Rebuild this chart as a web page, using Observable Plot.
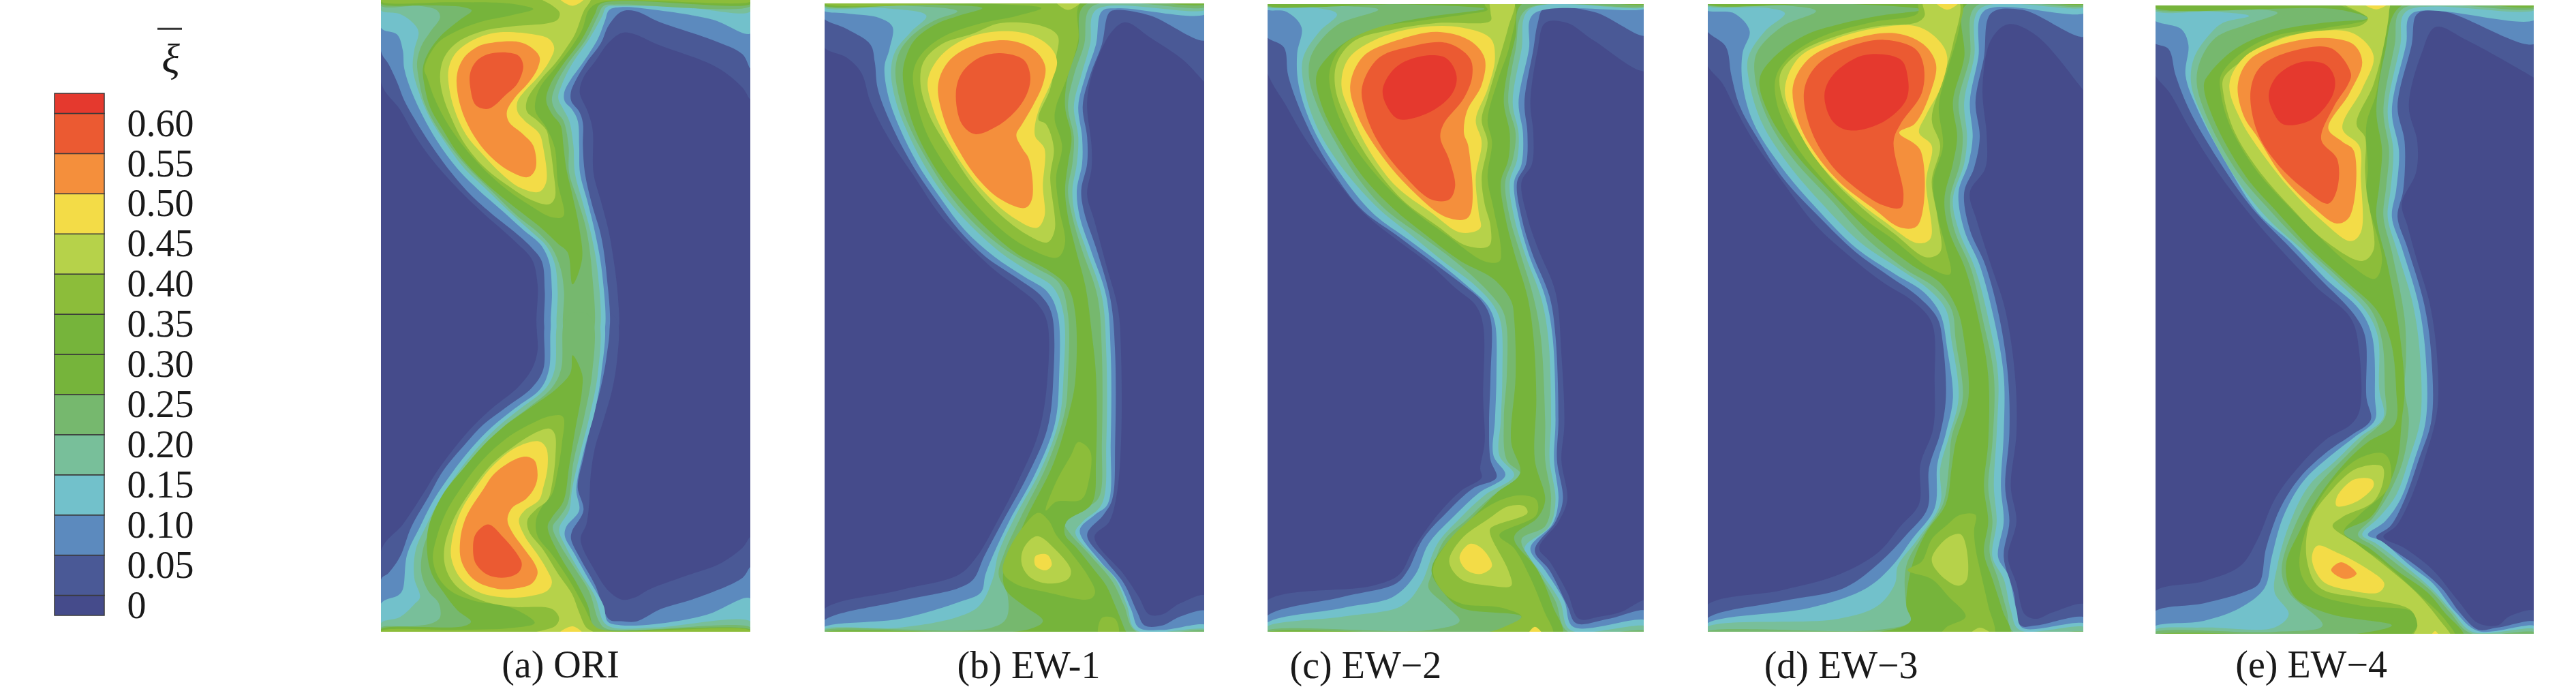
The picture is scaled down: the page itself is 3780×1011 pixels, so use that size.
<!DOCTYPE html>
<html><head><meta charset="utf-8">
<script src="https://cdn.jsdelivr.net/npm/d3@7"></script>
<script src="https://cdn.jsdelivr.net/npm/@observablehq/plot@0.6"></script>
<style>html,body{margin:0;background:#fff}#c{position:relative;width:3780px;height:1011px;overflow:hidden}#c>svg{position:absolute;top:0;overflow:visible}</style>
</head><body><div id="c"></div>
<script>
const thresholds=[0.0125,0.0625,0.1125,0.1625,0.2125,0.2625,0.3125,0.3625,0.4125,0.4625,0.5125,0.5625,0.6125];
const palette=["#454b8b","#4a5996","#5c8abe","#72c1cb","#78bf9a","#76b86e","#76b43b","#76b43b","#8cbd3a","#b6d24a","#f3dc47","#f48f3c","#eb5a32","#e5392e"];
const legendLevels=[0,0.05,0.10,0.15,0.20,0.25,0.30,0.35,0.40,0.45,0.50,0.55,0.60,0.625];
const legendLabels=[0,0.05,0.10,0.15,0.20,0.25,0.30,0.35,0.40,0.45,0.50,0.55,0.60];

// contour outlines: [xi level, [x,y, x,y, ...]], in picture units of each panel
const oriUpper=[
[.05,[45,-10,1333,-10,1333,435,1305,385,1215,295,1000,190,930,150,885,143,840,183,790,270,750,340,737,405,765,490,782,570,785,760,810,880,835,1000,850,1100,870,1300,870,1460,845,1500,615,1500,590,1460,590,1250,570,1140,510,1060,390,925,290,800,215,690,160,590,110,480,45,365]],
[.10,[45,-10,1333,-10,1333,300,1305,238,1200,175,1015,95,930,47,882,50,838,110,810,190,760,275,720,360,706,405,708,445,735,490,748,540,748,640,755,760,780,900,810,1030,830,1200,838,1460,813,1500,642,1500,617,1460,615,1280,605,1150,570,1090,510,1020,450,960,360,860,290,760,215,630,165,530,125,440,100,360,70,280,45,228]],
[.15,[45,-10,1333,-10,1333,145,1200,85,1000,42,880,30,840,42,825,90,800,170,745,280,705,350,683,405,685,445,710,480,730,530,735,640,738,760,765,890,790,1020,815,1200,822,1460,797,1500,665,1500,640,1460,640,1280,630,1150,600,1075,540,1010,470,930,380,830,310,740,240,620,190,510,150,400,125,300,120,220,100,150,45,122]],
[.20,[45,-10,1333,-10,1333,48,1100,30,880,25,830,30,815,70,770,170,710,280,675,370,662,430,680,480,700,530,715,640,720,760,745,880,775,1020,800,1200,805,1460,780,1500,685,1500,660,1460,660,1280,650,1160,620,1080,570,1020,500,940,410,830,335,740,265,620,215,520,175,400,155,300,160,220,175,140,160,105,110,60,45,45]],
[.25,[45,-10,1333,-10,1333,25,870,18,820,25,800,70,760,170,695,280,655,370,640,440,655,490,680,530,698,640,700,760,730,880,760,1010,780,1200,785,1460,760,1500,707,1500,682,1460,682,1280,670,1180,640,1090,590,1020,520,950,430,840,350,740,290,650,235,550,195,450,175,340,170,270,185,200,215,140,250,75,240,45,180,25,45,25]],
[.30,[45,-10,1333,-10,1333,15,810,15,790,60,745,170,680,280,635,370,620,440,640,500,670,550,680,640,690,740,710,850,735,1000,745,1140,712,1250,695,1110,660,1070,610,1010,540,940,460,860,380,770,310,670,260,570,215,470,195,370,190,300,205,240,250,160,320,85,360,45,330,30,200,22,45,15]],
[.40,[45,-10,1333,-10,1333,5,810,8,770,40,745,130,700,220,650,300,600,380,583,440,583,490,620,560,650,650,660,800,680,950,640,955,560,900,480,830,400,740,330,640,270,530,230,430,205,340,195,300,240,190,300,140,390,95,500,65,575,38,500,15,300,8,45,6]],
[.45,[600,-10,775,-10,750,50,720,150,690,210,650,280,600,350,553,440,553,490,590,530,620,570,630,620,645,750,650,870,630,898,570,880,480,810,400,730,330,620,290,520,260,420,250,330,265,250,310,185,400,135,500,115,630,100,660,85,667,55,640,22]],
[.50,[440,143,560,147,630,170,648,210,630,270,590,340,545,400,520,445,520,490,545,530,595,585,610,650,620,800,595,843,530,825,470,770,400,680,340,590,300,480,280,370,280,300,300,240,350,185]],
[.50,[665,-10,755,-10,712,24]],
[.55,[415,190,520,182,565,205,597,250,590,300,560,360,510,430,483,490,490,535,540,590,575,640,583,740,557,778,490,750,420,680,370,600,330,500,310,400,310,320,335,250,380,205]],
[.60,[415,238,485,230,525,245,540,290,520,365,480,415,420,477,375,462,355,380,355,320,375,270]]
];
const oriLower=[
[.05,[590,-20,615,-60,845,-60,870,-20,868,130,850,270,820,400,790,520,775,640,770,760,760,850,740,915,790,1050,840,1140,885,1175,930,1165,980,1130,1100,1075,1225,1020,1305,950,1333,905,1333,1325,45,1325,45,960,120,850,190,720,240,620,300,520,370,420,440,340,520,260,570,180,590,100]],
[.10,[617,-20,642,-60,813,-60,838,-20,830,130,810,260,780,400,750,560,730,690,750,790,710,880,707,915,740,1000,790,1110,840,1260,880,1268,930,1270,960,1255,1020,1215,1150,1165,1305,1080,1333,1035,1333,1325,45,1325,45,1085,70,1060,110,990,150,860,210,730,260,620,340,500,400,420,480,345,570,260,610,180]],
[.15,[640,-20,665,-60,797,-60,822,-20,812,200,790,360,750,540,725,700,735,790,690,860,685,900,720,980,770,1090,820,1200,835,1270,880,1285,1000,1280,1180,1240,1333,1170,1333,1325,45,1325,45,1190,105,1155,120,1130,135,980,180,860,230,740,290,630,360,520,430,430,510,350,600,265,630,180]],
[.20,[660,-20,685,-60,780,-60,805,-20,800,200,770,390,735,560,710,700,700,790,665,870,690,950,740,1060,790,1160,820,1270,850,1295,1000,1295,1333,1270,1333,1325,45,1325,45,1275,110,1250,160,1195,180,1165,160,1080,165,960,200,860,250,740,310,630,380,520,450,430,530,350,620,260,650,180]],
[.25,[682,-20,707,-60,760,-60,785,-20,780,200,750,400,715,580,695,760,665,820,643,860,665,930,720,1040,770,1140,805,1270,830,1300,1333,1295,1333,1325,45,1325,45,1295,150,1290,225,1275,250,1250,245,1190,210,1140,185,1060,190,960,220,860,270,730,330,620,400,520,470,430,560,345,640,260,672,180]],
[.30,[712,120,745,200,745,270,720,450,700,600,680,750,640,820,625,860,670,990,720,1090,765,1200,785,1290,810,1305,1333,1305,1333,1325,45,1325,45,1302,330,1290,358,1270,310,1220,260,1140,220,1060,205,970,210,860,260,720,330,610,400,510,480,420,560,350,660,260,705,195]],
[.40,[678,385,675,500,660,620,640,720,610,765,585,830,590,900,640,980,700,1090,750,1200,790,1290,830,1308,1333,1308,1333,1325,45,1325,45,1310,300,1305,500,1297,580,1275,500,1210,370,1180,290,1140,245,1080,225,1000,235,920,270,800,330,680,400,570,480,480,560,420,635,382]],
[.45,[632,437,650,460,652,560,640,680,625,745,585,785,555,830,560,880,610,960,660,1060,710,1150,735,1230,760,1295,790,1320,570,1320,650,1290,665,1255,640,1215,500,1205,400,1180,310,1120,270,1040,265,950,300,820,360,700,430,590,510,510,590,450]],
[.50,[595,492,620,520,625,600,610,690,595,745,545,790,525,830,545,900,590,980,620,1040,640,1100,625,1135,560,1160,470,1165,380,1140,320,1080,290,1000,290,930,320,800,380,680,440,590,520,515]],
[.50,[660,1325,712,1290,750,1325]],
[.55,[555,558,580,575,590,640,580,690,550,740,500,780,485,830,500,880,540,950,580,1020,590,1060,570,1105,520,1125,450,1128,370,1090,325,1010,320,920,340,820,400,700,440,630,520,565]],
[.60,[418,850,470,905,520,980,535,1020,525,1055,485,1078,420,1070,375,1020,365,950,375,890]]
];
const ew1=[
[.05,[46,-5,1340,-5,1340,188,1333,185,1260,135,1150,85,1065,50,1020,70,960,150,935,230,950,330,950,380,935,440,960,500,1000,600,1040,700,1050,800,1050,1000,1035,1120,1010,1180,960,1215,1060,1300,1110,1350,1145,1390,1190,1390,1250,1365,1340,1348,1340,1440,38,1440,38,1382,300,1335,500,1300,560,1260,630,1180,700,1090,770,980,800,860,800,730,770,690,700,650,620,610,510,540,430,480,350,400,260,310,200,230,170,165,120,130,38,103,38,-5]],
[.10,[38,-5,1340,-5,1340,90,1150,35,1040,22,1010,28,985,100,945,170,920,240,935,310,935,370,915,430,925,480,970,570,1015,680,1030,800,1030,1000,1020,1130,990,1165,935,1210,1000,1270,1060,1320,1105,1385,1130,1415,1190,1415,1250,1395,1340,1383,1340,1440,38,1440,38,1407,300,1360,500,1330,550,1310,585,1260,640,1190,730,1080,800,970,820,860,815,710,780,670,700,630,590,580,500,520,420,450,340,370,270,280,225,200,215,140,200,100,120,65,38,38]],
[.15,[38,-5,1340,-5,1340,30,1040,18,985,25,965,100,930,170,905,240,918,310,918,370,900,430,910,490,950,570,1000,670,1015,800,1015,1000,1005,1140,960,1165,910,1200,980,1270,1040,1315,1085,1380,1110,1420,1190,1425,1340,1415,1340,1440,38,1440,38,1421,300,1400,500,1362,575,1340,590,1300,620,1250,670,1180,760,1070,825,960,840,850,835,710,800,660,720,625,620,580,520,520,440,450,360,370,300,290,260,215,248,150,265,110,275,60,230,40,120,30,38,22]],
[.20,[38,-5,1340,-5,1340,20,965,22,945,100,915,170,890,240,905,310,900,370,885,430,895,490,935,570,985,670,1000,800,1000,1000,985,1140,920,1180,895,1205,960,1260,1030,1310,1070,1370,1100,1425,1340,1425,1340,1440,38,1440,38,1425,300,1420,500,1395,570,1370,615,1310,635,1250,690,1170,780,1060,840,950,855,850,855,710,820,650,740,615,640,570,540,510,460,450,380,370,320,290,285,225,270,160,285,115,340,70,390,35,250,18,38,15]],
[.25,[38,-5,1340,-5,1340,14,950,15,925,100,890,170,870,240,890,310,885,370,870,430,885,490,915,560,970,670,985,800,985,1000,975,1125,930,1150,860,1185,875,1205,950,1260,1020,1315,1060,1370,1100,1428,1340,1428,1340,1440,38,1440,38,1428,600,1422,660,1400,665,1345,635,1300,655,1250,710,1170,800,1050,860,930,870,850,870,710,840,640,760,605,660,565,560,510,480,450,400,370,335,290,300,225,285,160,300,115,350,75,420,45,495,25,300,12,38,12]],
[.30,[38,-5,1340,-5,1340,8,925,12,905,100,870,170,860,240,882,310,870,370,860,430,870,490,895,560,930,650,950,750,965,850,965,1040,950,1140,865,1180,860,1210,900,1240,960,1290,1000,1325,1030,1370,1060,1420,1070,1440,38,1440,38,1432,730,1425,785,1405,720,1370,660,1335,650,1300,680,1250,730,1170,820,1050,875,930,895,860,895,710,870,650,800,610,700,575,600,520,500,450,420,380,350,290,320,220,310,165,320,130,350,90,420,55,500,35,580,18,400,10,38,10]],
[.40,[38,-5,1340,-5,1340,4,915,5,905,90,870,170,830,240,825,270,850,330,830,400,840,470,860,550,835,582,720,555,620,505,530,440,450,370,390,300,355,225,345,165,370,125,440,85,560,55,700,35,780,18,600,8,38,6]],
[.45,[820,-5,925,-5,870,22]],
[.45,[640,52,780,58,835,80,830,130,810,200,770,270,795,280,822,335,810,400,825,520,800,548,730,530,640,485,550,420,470,340,400,260,370,190,380,140,440,100,550,75]],
[.50,[395,180,440,125,530,85,650,70,750,80,815,110,833,140,810,190,770,250,757,290,760,310,790,335,785,420,790,490,765,515,680,490,580,430,500,360,440,290,410,240]],
[.55,[430,190,470,135,560,100,680,92,760,115,793,150,785,190,750,240,715,280,695,305,715,335,738,360,748,450,725,470,640,450,560,400,500,340,450,270]],
[.60,[490,210,510,165,570,130,640,120,720,135,742,170,735,205,700,245,630,285,555,303,510,280]],
[.40,[905,1000,880,1030,830,1090,795,1155,830,1135,915,1130,940,1090,945,1020]],
[.40,[805,1178,770,1160,720,1190,665,1250,650,1295,690,1320,800,1340,945,1355,962,1340,940,1305,880,1250,830,1210]],
[.45,[765,1213,720,1240,713,1275,740,1305,800,1320,870,1310,880,1290,830,1245]],
[.50,[760,1258,800,1255,815,1278,795,1290,760,1280]],
[.40,[985,1398,1030,1400,1040,1440,975,1440]]
];
const ew2=[
[.05,[38,-5,1330,-5,1330,158,1150,90,1060,50,985,50,960,110,935,230,945,300,940,370,905,410,925,490,960,560,1020,660,1040,800,1050,960,1040,1040,1060,1130,1030,1180,965,1240,1000,1270,1060,1340,1100,1400,1170,1395,1240,1385,1330,1358,1330,1440,38,1440,38,1362,400,1325,490,1300,540,1240,620,1165,700,1110,770,1080,765,1060,780,1000,775,900,775,735,750,690,680,650,600,600,480,540,370,480,270,400,180,320,110,240,38,150]],
[.10,[38,-5,1330,-5,1330,78,1150,25,980,18,960,50,945,110,915,230,925,300,920,370,890,410,905,490,940,570,1000,670,1020,760,1030,950,1025,1040,1045,1130,1020,1180,950,1245,1000,1290,1060,1370,1090,1410,1200,1400,1330,1383,1330,1440,38,1440,38,1397,300,1350,480,1320,520,1290,570,1220,650,1160,740,1105,820,1080,800,1040,795,960,800,850,800,720,770,680,700,640,600,590,480,530,360,470,250,370,170,270,115,170,100,105,38,78]],
[.15,[38,-5,1330,-5,1330,15,945,30,930,110,895,230,910,300,905,370,880,410,895,490,930,575,985,670,1010,760,1020,950,1015,1040,1030,1130,1010,1185,935,1240,985,1290,1050,1360,1080,1418,1330,1405,1330,1440,38,1440,38,1412,300,1375,470,1350,545,1300,590,1230,680,1165,760,1115,850,1075,810,1030,815,950,820,850,815,730,790,690,720,645,620,590,520,540,400,480,290,390,200,290,150,190,145,120,160,60,110,25,38,18]],
[.20,[38,-5,1330,-5,1330,12,930,20,905,110,875,230,895,300,890,360,865,410,880,490,920,580,970,670,995,760,1005,950,1000,1040,1020,1130,1000,1190,915,1240,965,1290,1035,1360,1070,1425,1330,1418,1330,1440,38,1440,38,1420,300,1395,500,1370,565,1320,620,1230,700,1170,780,1120,880,1075,830,1030,835,950,840,850,835,730,810,690,740,640,640,590,530,530,420,470,300,380,215,290,170,200,165,130,220,70,280,30,200,15,38,12]],
[.25,[38,-5,1330,-5,1330,10,920,20,885,110,860,230,885,300,875,360,850,410,865,490,900,570,945,670,970,760,985,950,985,1040,1005,1130,985,1190,905,1220,950,1280,1020,1360,1060,1428,1330,1428,1330,1440,38,1440,38,1428,600,1425,695,1405,650,1370,590,1330,600,1300,640,1225,720,1175,800,1125,905,1075,855,1040,845,950,855,850,855,740,840,700,780,650,680,590,560,530,440,470,350,400,275,320,215,240,185,170,195,120,280,55,420,20,300,12,38,10]],
[.30,[38,-5,1330,-5,1330,6,905,8,885,80,860,150,845,230,865,300,860,360,835,410,850,490,880,570,925,670,945,760,955,900,950,1040,985,1130,960,1170,880,1215,960,1290,1010,1370,1040,1440,38,1440,38,1432,830,1425,905,1395,700,1375,640,1340,600,1290,650,1230,740,1170,820,1115,900,1070,870,1000,885,850,880,720,870,680,810,630,700,590,580,530,470,470,370,400,290,320,230,240,210,170,245,130,330,85,450,55,600,35,780,18,500,8,38,8]],
[.40,[780,8,880,8,865,100,825,180,790,270,805,320,790,400,810,470,835,560,830,590,780,590,650,530,520,465,420,400,320,310,265,220,255,160,300,100,420,60,560,45,720,30,790,20]],
[.45,[800,0,880,0,860,60,830,130,790,220,770,270,790,320,770,400,780,460,800,510,795,555,720,555,620,510,500,450,400,370,320,280,275,200,280,140,340,90,470,65,620,50,800,45,800,25]],
[.50,[295,190,320,130,420,85,560,60,700,60,800,85,815,130,790,200,750,270,770,320,750,400,760,480,765,515,700,525,600,480,480,420,390,340,330,260]],
[.55,[325,190,370,125,480,90,620,70,730,90,780,130,770,190,720,250,710,300,725,330,725,490,650,490,520,420,420,340,350,260]],
[.60,[365,195,420,130,520,105,650,95,730,130,738,170,710,220,640,280,630,310,660,360,680,420,660,450,600,450,500,390,420,320,375,250]],
[.625,[435,200,480,150,570,125,650,130,685,170,670,210,600,250,490,268,450,240]],
[.40,[640,1340,700,1365,840,1375,905,1395,840,1420,760,1440,1010,1440,980,1380,930,1300,880,1240,830,1210,955,1165,955,1130,900,1120,820,1135,740,1170,650,1230,605,1290]],
[.45,[915,1145,860,1145,790,1175,700,1220,660,1270,700,1310,800,1325,870,1325,860,1290,800,1210,800,1195,925,1160]],
[.50,[695,1260,730,1230,770,1240,805,1280,770,1298,720,1290]],
[.50,[925,1440,950,1418,980,1440]]
];
const ew3=[
[.05,[30,-5,1375,-5,1375,210,1368,205,1200,80,1100,55,1040,90,1010,200,1025,310,1020,380,965,435,990,500,1040,600,1090,700,1125,850,1130,980,1110,1100,1130,1180,1100,1260,1130,1320,1160,1390,1200,1400,1260,1385,1375,1368,1375,1440,30,1440,30,1372,300,1335,500,1300,640,1250,720,1190,785,1140,790,1050,835,970,840,860,830,730,760,680,660,640,540,580,420,510,300,410,200,320,130,240,90,190,30,140]],
[.10,[30,-5,1375,-5,1375,82,1150,22,1040,30,1015,130,985,230,1000,310,980,380,945,435,965,520,1020,600,1070,720,1100,850,1105,980,1090,1100,1105,1180,1085,1260,1120,1340,1145,1415,1200,1415,1375,1398,1375,1440,30,1440,30,1402,300,1360,520,1330,650,1270,740,1210,815,1150,820,1060,860,980,880,900,868,770,850,720,780,670,680,625,560,570,430,490,300,400,210,310,150,240,120,170,100,105,30,66]],
[.15,[30,-5,1375,-5,1375,28,1015,25,995,130,965,230,975,310,960,370,925,435,945,520,1000,600,1050,720,1085,850,1085,980,1075,1100,1085,1180,1065,1260,1100,1300,1130,1380,1150,1420,1375,1412,1375,1440,30,1440,30,1413,400,1375,600,1330,690,1280,760,1220,840,1150,850,1050,880,980,905,900,885,790,860,710,800,660,700,620,560,560,420,470,300,380,200,280,160,190,160,120,185,70,130,30,30,22]],
[.20,[30,-5,1375,-5,1375,15,1000,20,980,130,945,230,955,310,945,370,905,450,925,520,985,610,1030,720,1065,850,1060,980,1050,1100,1060,1180,1045,1260,1085,1310,1110,1380,1140,1425,1375,1420,1375,1440,30,1440,30,1420,500,1400,640,1370,700,1320,710,1280,780,1220,860,1140,860,1060,890,990,925,900,900,770,880,700,820,655,720,610,580,550,440,460,320,370,230,280,185,190,180,130,240,70,310,30,250,18,30,12]],
[.25,[30,-5,1375,-5,1375,12,985,15,965,130,925,230,940,310,930,370,895,450,910,520,970,610,1010,720,1050,850,1045,1000,1030,1100,1045,1180,1035,1250,1065,1310,1095,1380,1120,1430,1375,1430,1375,1440,30,1440,30,1430,640,1425,755,1405,740,1370,740,1280,800,1210,870,1140,890,1060,900,990,940,900,915,770,900,700,840,650,740,610,600,540,470,450,340,360,250,270,205,180,210,120,300,60,420,25,300,12,30,10]],
[.30,[30,-5,1375,-5,1375,8,950,12,945,130,905,230,920,310,905,370,875,450,890,520,950,610,995,720,1030,850,1030,1000,1015,1100,1030,1180,1015,1250,1045,1310,1080,1380,1105,1440,30,1440,30,1435,640,1430,755,1405,740,1370,760,1280,810,1205,880,1140,900,1060,915,1000,960,900,945,770,920,700,860,640,760,600,620,530,480,440,350,350,255,260,220,180,270,130,380,80,500,55,650,35,800,22,500,8,30,8]],
[.40,[785,2,935,2,925,70,885,160,855,240,870,330,835,410,855,500,880,560,895,620,820,605,690,540,580,490,450,410,340,320,280,230,280,170,340,120,450,80,620,50,780,30]],
[.40,[985,1165,930,1165,880,1190,830,1220,795,1270,745,1290,830,1310,890,1350,950,1395,880,1420,860,1440,1050,1440,1030,1370,1005,1300,985,1240,980,1200]],
[.45,[800,2,925,2,905,100,870,180,830,270,860,330,830,410,850,490,860,570,810,582,700,530,600,480,470,400,370,310,300,220,295,165,370,115,500,80,630,60,780,50,805,35]],
[.50,[310,200,360,130,480,90,620,65,780,60,860,95,885,130,860,200,810,260,785,300,830,330,810,410,825,540,780,550,660,500,540,440,420,360,340,270]],
[.55,[340,190,400,130,540,90,700,75,800,100,845,145,825,210,770,280,715,300,790,340,780,510,720,515,620,470,500,410,400,330,350,260]],
[.60,[378,205,420,150,520,110,660,90,770,110,800,145,795,210,720,280,695,320,730,440,720,470,660,465,560,425,470,370,400,290]],
[.625,[450,215,480,170,590,125,720,135,745,175,740,225,660,275,540,295,480,275]],
[.45,[830,1265,890,1215,935,1210,955,1310,925,1325,860,1300]],
[.45,[960,1440,1000,1420,1050,1440]],
[.50,[840,2,930,2,885,22]]
];
const ew4=[
[.05,[70,-5,1425,-5,1425,178,1418,175,1180,90,1070,60,1020,120,975,240,1005,320,1000,390,950,460,970,510,1000,580,1050,690,1075,810,1075,930,1030,1040,980,1130,930,1190,885,1215,960,1240,1060,1290,1150,1360,1220,1410,1290,1415,1330,1395,1425,1383,1425,1445,70,1445,70,1342,250,1315,380,1280,440,1220,500,1130,580,1060,680,995,770,960,800,930,800,800,770,720,650,650,530,570,420,490,300,390,200,290,130,210,70,158]],
[.10,[70,-5,1425,-5,1425,97,1100,25,1005,30,985,100,935,240,960,320,955,430,935,490,970,560,1030,690,1055,810,1055,950,1010,1040,960,1130,910,1190,860,1215,900,1235,1000,1280,1090,1330,1160,1390,1220,1425,1290,1420,1425,1408,1425,1445,70,1445,70,1387,250,1365,390,1340,445,1320,470,1240,520,1150,590,1080,690,1020,770,985,840,950,825,900,820,760,780,710,660,630,540,550,420,470,300,360,200,250,150,170,125,110,70,93]],
[.15,[70,-5,1425,-5,1425,42,985,30,965,100,915,250,940,340,930,430,915,490,950,560,1010,690,1035,810,1035,950,995,1040,945,1130,890,1180,830,1210,880,1225,980,1280,1060,1320,1140,1385,1220,1428,1425,1418,1425,1445,70,1445,70,1420,250,1405,380,1375,465,1330,490,1260,530,1170,600,1090,700,1030,780,990,855,950,855,900,845,760,800,700,680,630,560,550,440,480,330,370,230,250,185,170,195,100,170,65,70,42]],
[.20,[70,-5,1425,-5,1425,20,965,25,945,100,900,250,920,340,910,430,900,490,930,560,990,690,1015,810,1015,950,975,1040,930,1120,870,1170,810,1210,860,1230,960,1280,1060,1335,1130,1385,1200,1430,1425,1425,1425,1445,70,1445,70,1427,250,1420,500,1420,550,1390,500,1340,510,1280,550,1190,620,1100,720,1040,800,990,885,945,870,880,865,760,820,700,710,630,590,560,470,490,350,390,250,270,205,190,215,130,280,70,320,50,410,35,280,25,70,22]],
[.25,[70,-5,1425,-5,1425,16,950,20,925,100,885,250,905,340,895,420,885,490,915,570,960,720,965,810,960,880,975,950,955,1040,910,1110,850,1170,795,1210,850,1235,950,1285,1050,1335,1120,1385,1190,1432,1425,1432,1425,1445,70,1445,70,1432,500,1430,670,1415,550,1340,525,1290,565,1200,640,1110,740,1040,810,995,890,945,890,880,880,770,840,700,730,630,610,560,490,480,370,390,265,270,225,190,235,140,290,85,400,55,510,28,400,18,70,18]],
[.30,[70,-5,1425,-5,1425,12,945,14,890,120,860,250,880,340,870,420,860,490,900,600,935,720,960,880,950,950,935,1040,895,1110,840,1170,745,1205,835,1240,930,1290,1040,1340,1100,1385,1170,1445,70,1445,70,1438,780,1435,915,1415,700,1390,570,1350,540,1280,590,1200,660,1120,760,1040,830,1000,925,960,930,880,910,770,860,700,760,640,640,570,510,480,400,400,285,270,250,190,270,165,360,110,500,70,680,50,830,40,720,20,70,14]],
[.40,[830,40,680,62,500,80,380,120,310,170,310,210,340,280,430,380,540,460,650,530,770,600,855,630,880,590,825,440,830,380,825,280,860,210,885,100,905,30,900,5,720,5]],
[.40,[905,1040,905,1100,800,1165,745,1205,880,1270,1020,1350,1100,1400,1140,1445,980,1445,1005,1415,990,1385,800,1370,640,1340,590,1290,610,1200,680,1110,790,1040,880,1025]],
[.45,[830,40,810,55,680,68,520,85,400,130,320,175,320,215,360,300,450,390,560,470,670,540,810,590,850,565,825,430,820,380,820,310,790,280,850,190,890,90,905,25,905,5,740,5]],
[.45,[880,1055,885,1085,850,1135,740,1170,705,1190,790,1230,900,1285,1000,1340,1080,1400,1125,1445,990,1445,1005,1415,980,1380,830,1355,660,1330,615,1270,625,1180,700,1110,790,1060]],
[.50,[340,190,390,130,510,90,640,70,780,75,850,125,810,200,740,290,800,330,805,400,805,525,770,545,670,500,560,430,460,350,380,270]],
[.50,[720,1125,780,1085,845,1085,850,1100,790,1135,720,1145]],
[.50,[650,1235,720,1250,810,1280,888,1320,870,1340,760,1335,670,1315,632,1265]],
[.50,[1050,1445,1068,1428,1085,1445]],
[.50,[810,5,905,5,860,20]],
[.55,[370,190,410,135,520,100,680,85,780,100,810,140,765,210,690,290,740,320,780,340,765,490,720,505,640,470,530,400,440,310,390,260]],
[.55,[735,1272,790,1298,750,1310,700,1290]],
[.60,[415,205,450,150,560,115,700,108,770,165,760,190,710,240,665,315,722,360,720,430,690,460,610,430,510,370,440,300]],
[.625,[480,210,510,170,590,140,680,145,712,175,705,215,630,270,530,280,490,245]]
];

const color={type:"threshold",domain:thresholds,range:palette};
const root=document.getElementById("c");
const SERIF="Liberation Serif";

const toUpper=y=>1440+1.02*y;
const rows=(sets)=>d3.sort(sets.flatMap(([polys,fy],s)=>polys.flatMap(([level,p],i)=>{
  const out=[];for(let k=0;k<p.length;k+=2)out.push({id:s+"-"+i,level,x:p[k],y:fy?fy(p[k+1]):p[k+1]});return out;
})),d=>d.level);

const panels=[
 {left:559,right:1101,top:0,bottom:927,xd:[45,1333],yd:[0,2781],sets:[[oriUpper,null],[oriLower,toUpper]],cap:"(a) ORI",cx:670,cy:2928},
 {left:1210,right:1767,top:5,bottom:927,xd:[46,1333],yd:[8,1430],sets:[[ew1,null]],cap:"(b) EW-1",cx:737,cy:1506},
 {left:1860,right:2412,top:6,bottom:927,xd:[46,1320],yd:[8,1430],sets:[[ew2,null]],cap:"(c) EW\u22122",cx:377,cy:1506},
 {left:2506,right:3057,top:6,bottom:927,xd:[38,1368],yd:[10,1430],sets:[[ew3,null]],cap:"(d) EW\u22123",cx:509,cy:1506},
 {left:3163,right:3718,top:8,bottom:930,xd:[80,1418],yd:[12,1435],sets:[[ew4,null]],cap:"(e) EW\u22124",cx:630,cy:1506}
];
for(const p of panels){
  const data=rows(p.sets);
  const svg=Plot.plot({
    width:p.right-p.left,height:1011,
    marginLeft:0,marginRight:0,marginTop:p.top,marginBottom:1011-p.bottom,
    x:{domain:p.xd,axis:null},
    y:{domain:[p.yd[1],p.yd[0]],axis:null},
    color,
    style:{background:"transparent"},
    marks:[
      Plot.rect([{level:0}],{x1:()=>p.xd[0],x2:()=>p.xd[1],y1:()=>p.yd[0],y2:()=>p.yd[1],fill:"level"}),
      Plot.line(data,{x:"x",y:"y",z:"id",fill:"level",stroke:null,curve:"catmull-rom-closed",clip:true}),
      Plot.text([p.cap],{x:()=>p.cx,y:()=>p.cy,text:d=>d,fontFamily:SERIF,fontSize:56,fill:"#1a1a1a"})
    ]
  });
  svg.style.left=p.left+"px";
  root.appendChild(svg);
}

// Colour key
const edges=[-0.0125,0.0125,0.0625,0.1125,0.1625,0.2125,0.2625,0.3125,0.3625,0.4125,0.4625,0.5125,0.5625,0.6125,0.6375];
const cells=legendLevels.map((level,i)=>({level,y1:edges[i],y2:edges[i+1]}));
const key=Plot.plot({
  width:400,height:1011,margin:0,
  x:{domain:[0,400],axis:null},
  y:{domain:[-0.0125,0.6375],range:[903,137],axis:null},
  color,
  style:{background:"transparent"},
  marks:[
    Plot.rect(cells,{x1:()=>80,x2:()=>153,y1:"y1",y2:"y2",fill:"level",stroke:"#3a3a3a",strokeWidth:1.5}),
    Plot.text(legendLabels,{x:()=>186,y:d=>d,text:d=>d===0?"0":d.toFixed(2),textAnchor:"start",fontFamily:SERIF,fontSize:56,fill:"#1a1a1a"}),
    Plot.ruleY([0.7184],{x1:()=>231,x2:()=>267,stroke:"#333",strokeWidth:3}),
    Plot.text(["\u03BE"],{x:()=>250,y:()=>0.68,text:d=>d,fontFamily:SERIF,fontStyle:"italic",fontSize:62,fill:"#1a1a1a"})
  ]
});
key.style.left="0px";
root.appendChild(key);
</script></body></html>
